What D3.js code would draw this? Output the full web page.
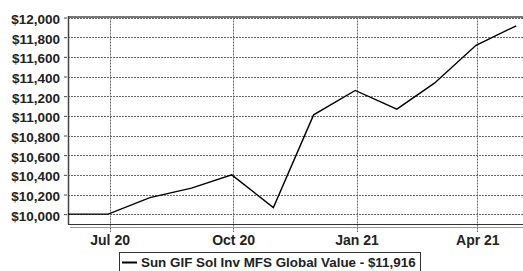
<!DOCTYPE html>
<html>
<head>
<meta charset="utf-8">
<script src="https://cdn.jsdelivr.net/npm/d3@7"></script>
<style>
body { margin: 0; background: #fff; }
svg { display: block; font-family: "Liberation Sans", Arial, sans-serif; }
</style>
</head>
<body>
<svg id="chart" width="523" height="271"></svg>
<script>
// month-end values of a $10,000 investment
const dates = ["2020-05-31", "2020-06-30", "2020-07-31", "2020-08-31", "2020-09-30", "2020-10-31",
	"2020-11-30", "2020-12-31", "2021-01-31", "2021-02-28", "2021-03-31", "2021-04-30"];
const values = [10000, 10000, 10169, 10265, 10400, 10067, 11010, 11258, 11068, 11332, 11717, 11916];
const yTicks = [10000, 10200, 10400, 10600, 10800, 11000, 11200, 11400, 11600, 11800, 12000];
const xTicks = ["2020-07-01", "2020-10-01", "2021-01-01", "2021-04-01"];
const seriesName = "Sun GIF Sol Inv MFS Global Value - $11,916";

const parse = d3.timeParse("%Y-%m-%d");
const plotLeft = 68, plotRight = 523, plotTop = 17.5, plotBottom = 224;

const svg = d3.select("#chart");

const x = d3.scaleTime()
	.domain([parse("2020-05-31"), parse("2021-05-05")])
	.range([plotLeft, plotRight]);
const y = d3.scaleLinear()
	.domain([9900, 12000])
	.range([plotBottom, plotTop]);

//Grid
svg.append("g").selectAll("line")
	.data(yTicks)
	.enter()
	.append("line")
	.attr("x1", plotLeft).attr("x2", plotRight)
	.attr("y1", d => Math.round(y(d)) + 0.5)
	.attr("y2", d => Math.round(y(d)) + 0.5)
	.style("stroke", "#666")
	.style("stroke-dasharray", "2,1");

svg.append("g").selectAll("line")
	.data(xTicks.map(parse))
	.enter()
	.append("line")
	.attr("x1", d => Math.round(x(d)) + 0.5)
	.attr("x2", d => Math.round(x(d)) + 0.5)
	.attr("y1", plotTop).attr("y2", plotBottom + 8)
	.style("stroke", "#666")
	.style("stroke-dasharray", "2,1");

//Frame
svg.append("line")
	.attr("x1", plotLeft).attr("x2", plotRight)
	.attr("y1", 17).attr("y2", 17)
	.style("stroke", "#777").style("stroke-width", 2);
svg.append("line")
	.attr("x1", plotLeft + 0.5).attr("x2", plotLeft + 0.5)
	.attr("y1", 16).attr("y2", plotBottom + 0.5)
	.style("stroke", "#444").style("stroke-width", 1.5);
svg.append("line")
	.attr("x1", plotLeft).attr("x2", plotRight)
	.attr("y1", plotBottom + 0.5).attr("y2", plotBottom + 0.5)
	.style("stroke", "#333").style("stroke-width", 1.2);
svg.append("line")
	.attr("x1", plotLeft + 2).attr("x2", plotRight)
	.attr("y1", plotBottom + 3.5).attr("y2", plotBottom + 3.5)
	.style("stroke", "#999").style("stroke-width", 1);

//Y axis
const yAxis = svg.append("g")
	.attr("transform", `translate(${plotLeft - 1},0)`)
	.call(d3.axisLeft(y).tickValues(yTicks).tickSize(3).tickPadding(4)
		.tickFormat(d => "$" + d3.format(",")(d)));
yAxis.select(".domain").remove();
yAxis.selectAll("line").style("stroke", "#444");
yAxis.selectAll("text")
	.attr("dy", "0.45em")
	.style("font-size", "13.5px")
	.style("font-weight", "bold")
	.style("fill", "#222");

//X axis
const xAxis = svg.append("g")
	.attr("transform", `translate(0,${plotBottom + 8})`)
	.call(d3.axisBottom(x).tickValues(xTicks.map(parse)).tickSize(0).tickPadding(3)
		.tickFormat(d3.timeFormat("%b %y")));
xAxis.select(".domain").remove();
xAxis.selectAll("text")
	.style("font-size", "14px")
	.style("font-weight", "bold")
	.style("fill", "#222");

//Line
const line = d3.line()
	.x((d, i) => x(parse(dates[i])))
	.y(d => y(d));
svg.append("path")
	.attr("d", line(values))
	.style("fill", "none")
	.style("stroke", "#000")
	.style("stroke-width", 1.4);

//Legend
const legend = svg.append("g");
legend.append("rect")
	.attr("x", 119.5).attr("y", 252.5)
	.attr("width", 301).attr("height", 22)
	.style("fill", "#fff")
	.style("stroke", "#333");
legend.append("line")
	.attr("x1", 122).attr("x2", 137)
	.attr("y1", 262.5).attr("y2", 262.5)
	.style("stroke", "#000").style("stroke-width", 2);
legend.append("text")
	.attr("x", 141).attr("y", 267)
	.text(seriesName)
	.style("font-size", "13.4px")
	.style("font-weight", "bold")
	.style("fill", "#222");
</script>
</body>
</html>
